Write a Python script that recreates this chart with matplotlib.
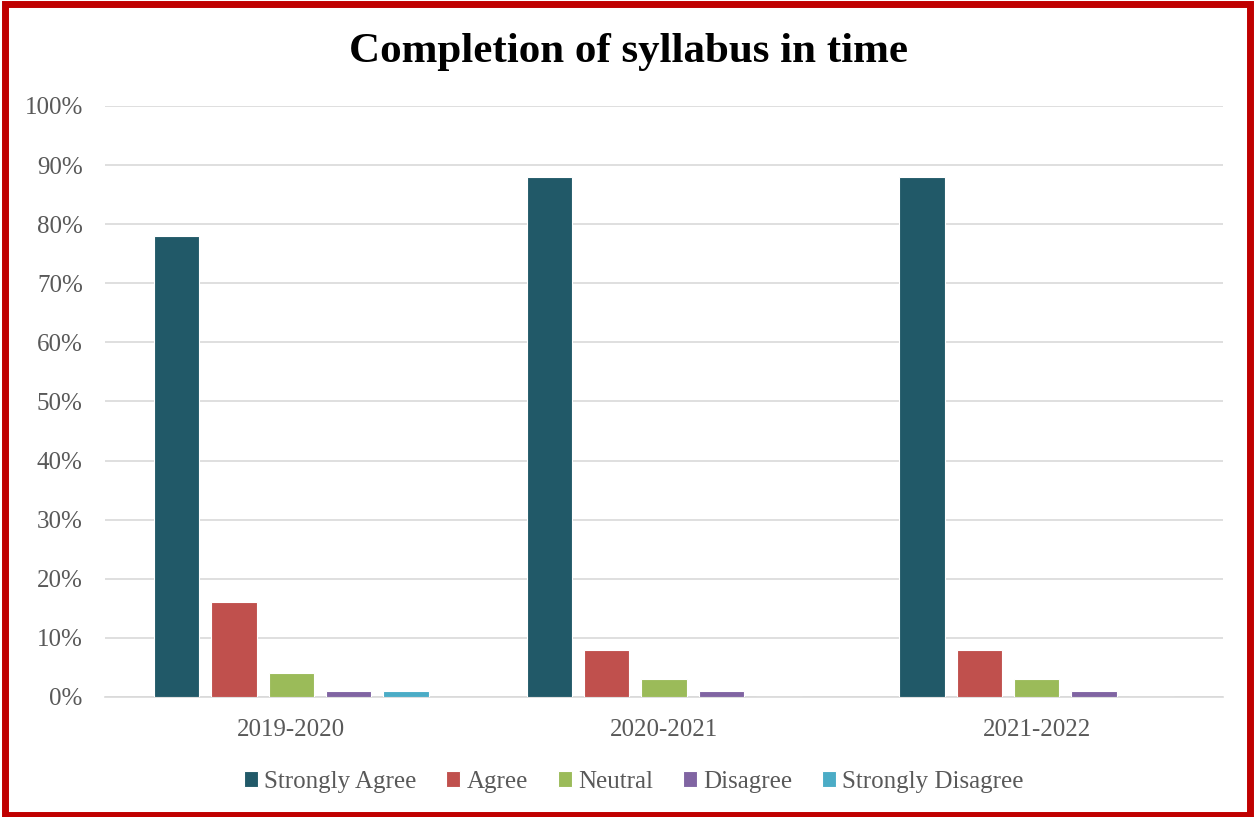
import matplotlib
matplotlib.use("Agg")
import matplotlib.pyplot as plt
import numpy as np
from matplotlib.patches import Rectangle

years = ['2019-2020', '2020-2021', '2021-2022']
responses = ['Strongly Agree', 'Agree', 'Neutral', 'Disagree', 'Strongly Disagree']
strongly_agree = [78, 88, 88]
agree = [16, 8, 8]
neutral = [4, 3, 3]
disagree = [1, 1, 1]
strongly_disagree = [1, 0, 0]
colours = ['#215968', '#C0504D', '#9BBB59', '#8064A2', '#4BACC6']

series = [strongly_agree, agree, neutral, disagree, strongly_disagree]

plt.rcParams['font.family'] = ['Liberation Serif', 'DejaVu Serif']

fig = plt.figure(figsize=(12.55, 8.17), dpi=100)
ax = fig.add_axes([0.0837, 0.1469, 0.8908, 0.7234])

x = np.arange(len(years))
step = 0.154
width = 0.122
for i, (name, vals) in enumerate(zip(responses, series)):
    offset = (i - 2) * step
    ax.bar(x + offset, vals, width, color=colours[i], label=name,
           edgecolor='white', linewidth=0.8, zorder=3)

ax.set_xlim(-0.5, 2.5)
ax.set_ylim(0, 100)
ax.set_yticks(range(0, 101, 10))
ax.set_yticklabels([f'{v}%' for v in range(0, 101, 10)])
ax.set_xticks(x)
ax.set_xticklabels(years)
ax.yaxis.grid(True, color='#D9D9D9', linewidth=1.2, zorder=0)
for s in ['top', 'right', 'left']:
    ax.spines[s].set_visible(False)
ax.spines['bottom'].set_color('#D9D9D9')
ax.spines['bottom'].set_linewidth(1.2)
ax.tick_params(axis='both', length=0, labelsize=18, colors='#595959')
ax.tick_params(axis='y', pad=16)
ax.tick_params(axis='x', pad=16)

fig.text(0.501, 0.936, 'Completion of syllabus in time', ha='center', va='center',
         fontsize=31, fontweight='bold', color='black')

leg = fig.legend(loc='center', bbox_to_anchor=(0.505, 0.043), ncol=5, frameon=False,
                 fontsize=18, handlelength=0.55, handleheight=0.55, handletextpad=0.25,
                 columnspacing=1.2)
for t in leg.get_texts():
    t.set_color('#595959')

fig.patches.append(Rectangle((0.0036, 0.0025), 0.9928, 0.992, transform=fig.transFigure,
                             fill=False, edgecolor='#C00000', linewidth=5, zorder=10))

fig.savefig('out.png', dpi=100)
